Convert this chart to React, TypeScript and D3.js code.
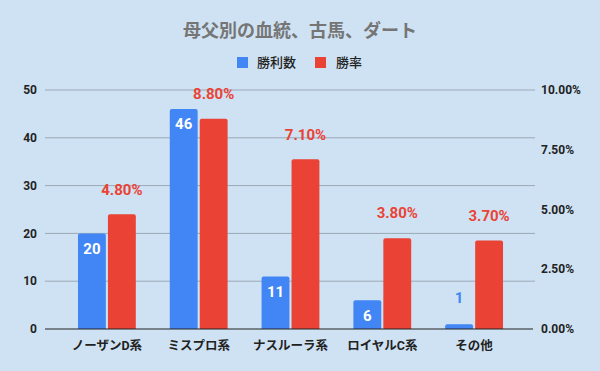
import React from "react";
import * as d3 from "d3";

const categories = ["ノーザンD系", "ミスプロ系", "ナスルーラ系", "ロイヤルC系", "その他"];
const wins = [20, 46, 11, 6, 1];
const winRates = [0.048, 0.088, 0.071, 0.038, 0.037];
const leftTicks = [0, 10, 20, 30, 40, 50];
const rightTicks = [0, 0.025, 0.05, 0.075, 0.1];

const W = 600;
const H = 371;
const BLUE = "#4285f4";
const RED = "#ea4335";
const FONT = "Roboto, 'Noto Sans CJK JP', sans-serif";
const JP = "'Noto Sans CJK JP', sans-serif";

export default function App() {
  const top = 90;
  const bottom = 329;

  const x = d3.scaleBand<string>().domain(categories).range([61, 520]).paddingInner(0.37).paddingOuter(0.185);
  const inner = d3.scaleBand<string>().domain(["wins", "rate"]).range([0, x.bandwidth()]).paddingInner(0.07);
  const yLeft = d3.scaleLinear().domain([0, 50]).range([bottom, top]);
  const yRight = d3.scaleLinear().domain([0, 0.1]).range([bottom, top]);
  const pct = d3.format(".2%");

  return (
    <svg width={W} height={H} style={{ position: "absolute", left: 0, top: 0, fontFamily: FONT }}>
      <rect width={W} height={H} fill="#cfe2f3" />
      <text x={W / 2} y={37} textAnchor="middle" fontSize={18} fontWeight={700} fontFamily={JP} fill="#757575">
        母父別の血統、古馬、ダート
      </text>

      {/* legend */}
      <rect x={237} y={57} width={11} height={11} fill={BLUE} />
      <text x={257} y={67} fontSize={13} fontWeight={500} fontFamily={JP} fill="#222">勝利数</text>
      <rect x={315} y={57} width={11} height={11} fill={RED} />
      <text x={336} y={67} fontSize={13} fontWeight={500} fontFamily={JP} fill="#222">勝率</text>

      {/* grid + left axis */}
      {leftTicks.map((t) => (
        <g key={"l" + t}>
          {t !== 0 && (
            <line x1={45} x2={535} y1={yLeft(t)} y2={yLeft(t)} stroke="#9aa8b6" strokeWidth={1} />
          )}
          <text x={37} y={yLeft(t)} dy="0.35em" textAnchor="end" fontSize={12} fontWeight="bold" fill="#222">
            {t}
          </text>
        </g>
      ))}

      {/* right axis */}
      {rightTicks.map((t) => (
        <text key={"r" + t} x={541} y={yRight(t)} dy="0.35em" fontSize={12} fontWeight="bold" fill="#222">
          {pct(t)}
        </text>
      ))}

      {/* bars */}
      {categories.map((c, i) => {
        const bx = x(c)!;
        const wx = bx + inner("wins")!;
        const rx = bx + inner("rate")!;
        const bw = inner.bandwidth();
        const wy = yLeft(wins[i]);
        const ry = yRight(winRates[i]);
        const inside = bottom - wy > 25;
        return (
          <g key={c}>
            <path
              d={`M${wx},${bottom}V${wy + 2}q0,-2 2,-2H${wx + bw - 2}q2,0 2,2V${bottom}Z`}
              fill={BLUE}
            />
            <path
              d={`M${rx},${bottom}V${ry + 2}q0,-2 2,-2H${rx + bw - 2}q2,0 2,2V${bottom}Z`}
              fill={RED}
            />
            <text
              x={wx + bw / 2}
              y={inside ? wy + 15 : wy - 26}
              dy="0.35em"
              textAnchor="middle"
              fontSize={15}
              fontWeight="bold"
              fill={inside ? "#fff" : BLUE}
            >
              {wins[i]}
            </text>
            <text
              x={rx + bw / 2}
              y={ry - 25}
              dy="0.35em"
              textAnchor="middle"
              fontSize={15}
              fontWeight="bold"
              fill={RED}
            >
              {pct(winRates[i])}
            </text>
            <text
              x={bx + x.bandwidth() / 2}
              y={bottom + 17}
              dy="0.35em"
              textAnchor="middle"
              fontSize={12.5}
              fontWeight="bold"
              fill="#222"
            >
              {c}
            </text>
          </g>
        );
      })}

      <line x1={45} x2={533} y1={bottom} y2={bottom} stroke="#222" strokeWidth={1} />
    </svg>
  );
}
